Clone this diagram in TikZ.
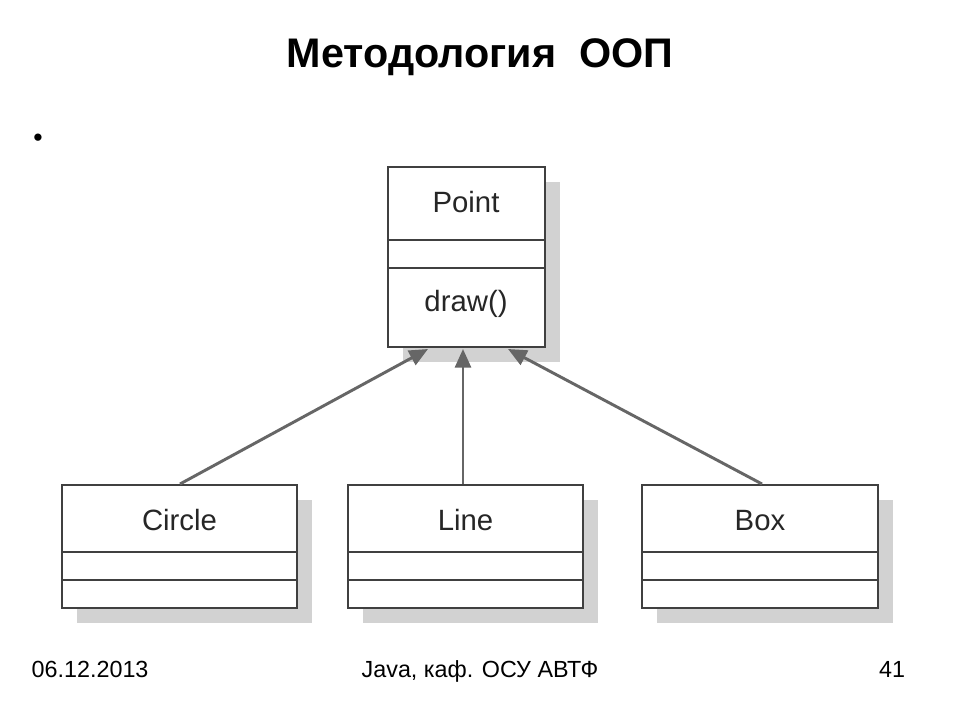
\documentclass[tikz,border=0pt]{standalone}
\usepackage{fontspec}
\setmainfont{Liberation Sans}
\usetikzlibrary{arrows.meta}
\begin{document}
\begin{tikzpicture}[x=0.75pt,y=-0.75pt,
  shad/.style={fill=gray!35,draw=none},
  cls/.style={draw=black!75,line width=1.6pt,fill=white},
  lbl/.style={anchor=base,font=\fontsize{22}{24}\selectfont,text=black!85},
  ft/.style={anchor=base,font=\fontsize{17.5}{20}\selectfont},
  inh/.style={draw=gray!80!black,line width=2.2pt,-{Triangle[length=14pt,width=12pt]}}]
\useasboundingbox (0,0) rectangle (960,720);
\fill[white] (0,0) rectangle (960,720);
\node[anchor=base] (title) at (480,68) {\fontsize{31}{34}\selectfont\bfseries Методология\ \ ООП};
\node (bul) at (38,140) {\fontsize{20}{20}\selectfont •};
% Point
\fill[shad] (403,182) rectangle (560,362);
\draw[cls] (388,167) rectangle (545,347);
\draw[cls] (388,240) -- (545,240) (388,268) -- (545,268);
\node[lbl] (pname) at (466,213) {Point};
\node[lbl] (pm) at (466,311) {draw()};
% children
\foreach \n/\l/\xa/\xb in {circle/Circle/62/297, line/Line/348/583, box/Box/642/878}{
  \fill[shad] (\xa+15,500) rectangle (\xb+15,623);
  \draw[cls] (\xa,485) rectangle (\xb,608);
  \draw[cls] (\xa,552) -- (\xb,552) (\xa,580) -- (\xb,580);
  \node[lbl] (\n) at ({(\xa+\xb)/2},530) {\l};
}
\coordinate (c1) at (180,484); \coordinate (p1) at (428,349);
\coordinate (c2) at (463,484); \coordinate (p2) at (463,349);
\coordinate (c3) at (762,484); \coordinate (p3) at (508,349);
\draw[inh] (c1) -- (p1);
\draw[inh] (c2) -- (p2);
\draw[inh] (c3) -- (p3);
\node[ft,anchor=base west] (date) at (27,677) {06.12.2013};
\node[ft] (foot) at (480,677) {Java, каф. ОСУ АВТФ};
\node[ft] (num) at (892,677) {41};
\end{tikzpicture}
\end{document}
